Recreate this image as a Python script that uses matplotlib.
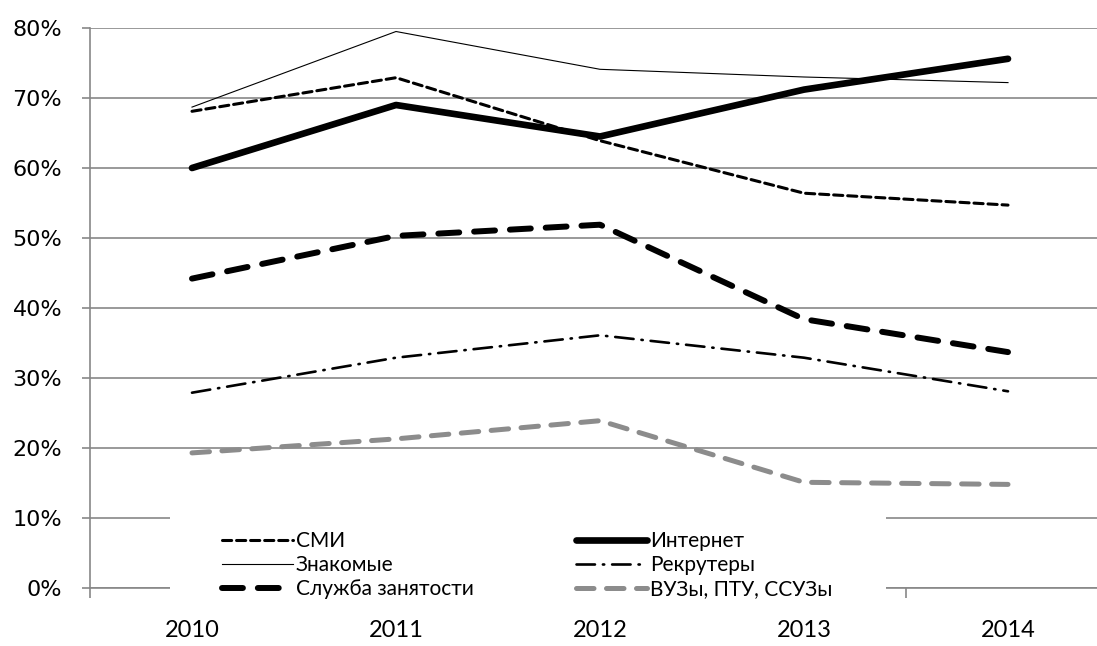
import numpy as np
import matplotlib.pyplot as plt
from matplotlib.patches import Rectangle
from matplotlib.ticker import MultipleLocator, FuncFormatter

# -----------------------------
# Data (share, %)
# -----------------------------
years = ["2010", "2011", "2012", "2013", "2014"]

smi = [68.1, 72.9, 63.9, 56.4, 54.7]
internet = [60.0, 69.0, 64.5, 71.2, 75.6]
znakomye = [68.7, 79.5, 74.1, 73.0, 72.2]
rekrutery = [27.9, 32.9, 36.1, 32.9, 28.1]
sluzhba = [44.2, 50.3, 51.9, 38.4, 33.7]
vuzy = [19.3, 21.3, 23.9, 15.1, 14.8]

labels = ["СМИ", "Интернет", "Знакомые", "Рекрутеры",
          "Служба занятости", "ВУЗы, ПТУ, ССУЗы"]

grid_color = "#878787"
label_font = "Lato"

# -----------------------------
# Figure
# -----------------------------
fig = plt.figure(figsize=(10.97, 6.46), dpi=100)
# plot area runs a little past the right edge of the picture
ax = fig.add_axes([90 / 1097, 58 / 646, 1020 / 1097, 560 / 646])

x = np.arange(len(years))

h_smi, = ax.plot(x, smi, color="black", lw=2.2, dashes=(3, 1.6),
                 dash_capstyle="round", label=labels[0], zorder=3)
h_int, = ax.plot(x, internet, color="black", lw=4.8, solid_capstyle="round",
                 solid_joinstyle="round", label=labels[1], zorder=4)
h_zn, = ax.plot(x, znakomye, color="black", lw=0.8, label=labels[2], zorder=3)
h_rek, = ax.plot(x, rekrutery, color="black", lw=1.9, dashes=(7, 3, 0.5, 3),
                 dash_capstyle="round", label=labels[3], zorder=3)
h_sl, = ax.plot(x, sluzhba, color="black", lw=4.3, dashes=(3.5, 2.5),
                dash_capstyle="round", label=labels[4], zorder=3)
h_vuz, = ax.plot(x, vuzy, color="#8c8c8c", lw=3.6, dashes=(3.5, 2.5),
                 dash_capstyle="round", label=labels[5], zorder=3)

# -----------------------------
# Axes styling
# -----------------------------
ax.set_xlim(-0.5, len(years) - 0.5)
ax.set_ylim(0, 80)
ax.yaxis.set_major_locator(MultipleLocator(10))
ax.yaxis.set_major_formatter(FuncFormatter(lambda v, p: f"{v:.0f}%"))
ax.yaxis.grid(True, color=grid_color, lw=1.2)
ax.set_axisbelow(True)

ax.set_xticks(x)
ax.set_xticklabels(years, fontsize=17, family=label_font)
ax.set_xticks(np.arange(-0.5, len(years)), minor=True)
ax.tick_params(axis="x", which="major", length=0, pad=23)
ax.tick_params(axis="x", which="minor", length=7, color=grid_color,
               width=1.2, direction="out")
ax.tick_params(axis="y", length=6, color=grid_color, width=1.2,
               labelsize=16, pad=14)

for side in ["top", "right"]:
    ax.spines[side].set_visible(False)
ax.spines["left"].set_color(grid_color)
ax.spines["left"].set_linewidth(1.2)
ax.spines["bottom"].set_color(grid_color)
ax.spines["bottom"].set_linewidth(1.2)

# white legend area, hides the grid underneath
ax.add_patch(Rectangle((170 / 1097, 44 / 646), 716 / 1097, 134 / 646,
                       transform=fig.transFigure, facecolor="white",
                       edgecolor="none", zorder=2.8, clip_on=False))

# legend filled row by row: column 1 then column 2
handles = [h_smi, h_zn, h_sl, h_int, h_rek, h_vuz]
leg = ax.legend(handles, [h.get_label() for h in handles], ncol=2,
                loc="upper left",
                bbox_to_anchor=(222 / 1097, (646 - 531) / 646),
                bbox_transform=fig.transFigure,
                frameon=False,
                prop={"family": label_font, "size": 15},
                handlelength=3.4, handletextpad=0.15,
                columnspacing=4.9, labelspacing=0.2,
                borderpad=0, borderaxespad=0)
leg.set_zorder(5)

fig.savefig("out.png", dpi=100)
